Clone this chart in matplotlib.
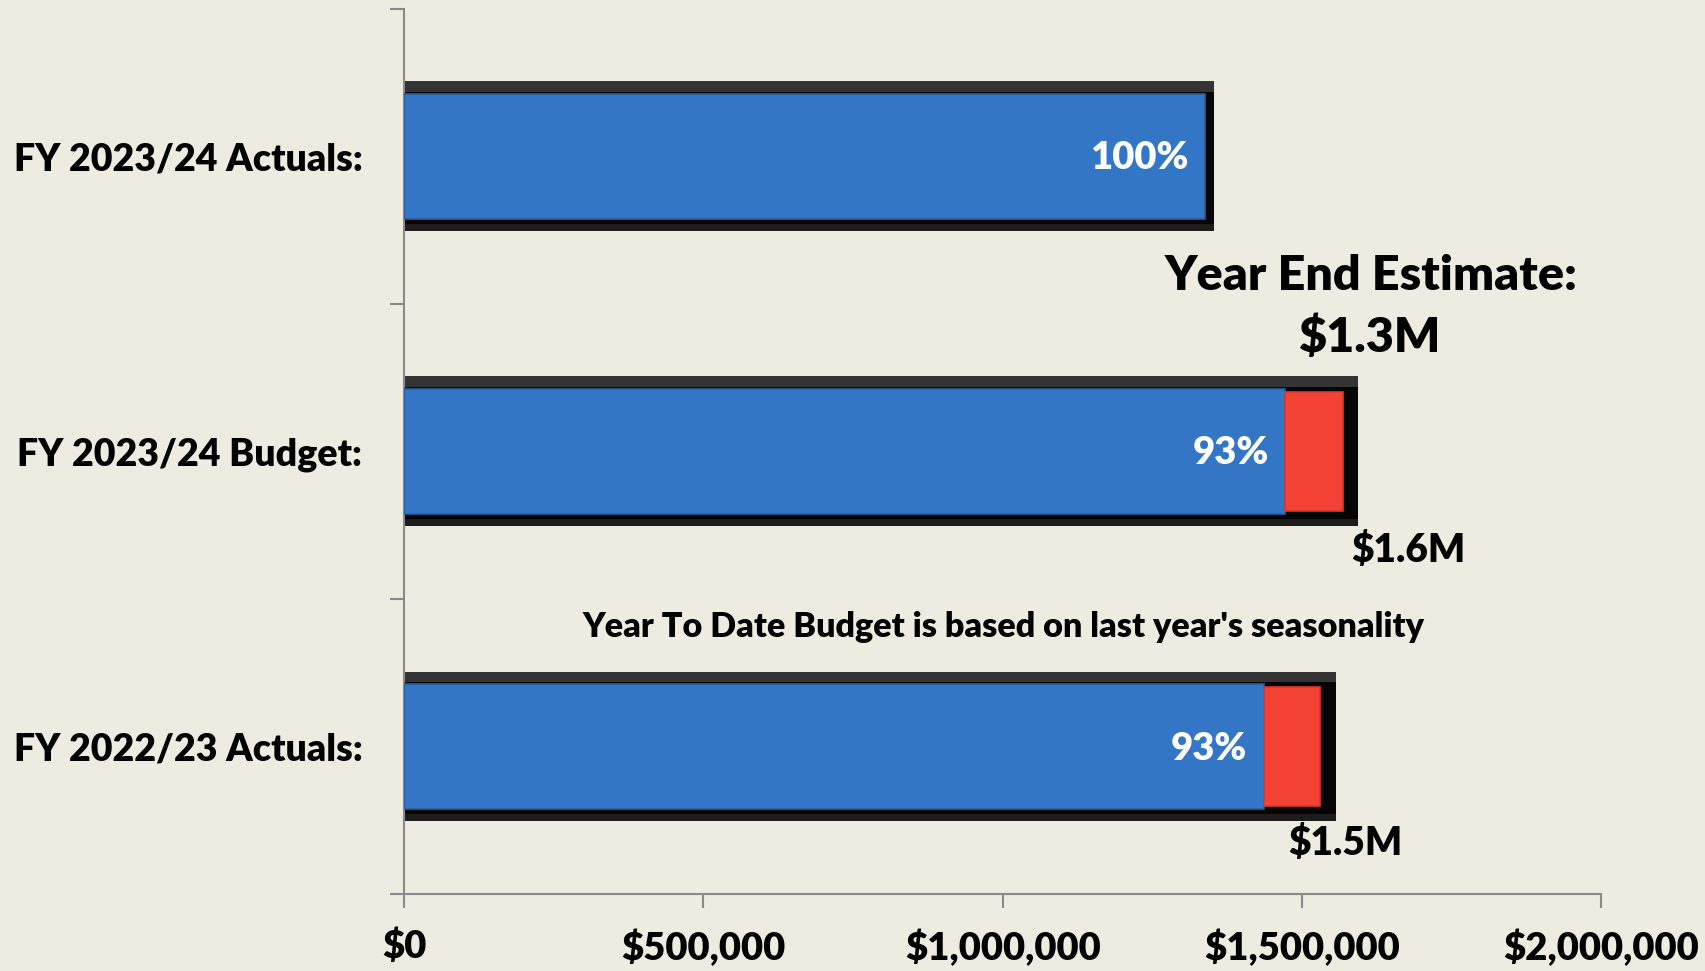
import matplotlib
matplotlib.use("Agg")
import matplotlib.pyplot as plt
from matplotlib.ticker import FuncFormatter, FixedLocator

plt.rcParams['font.family'] = ['Lato', 'DejaVu Sans']
W = 'heavy'
plt.rcParams['font.weight'] = W

# ---- data ----
categories = ["FY 2023/24 Actuals:", "FY 2023/24 Budget:", "FY 2022/23 Actuals:"]
frame_totals = [1353000, 1594000, 1557000]      # black framed bar
ytd_actuals = [1338000, 1472000, 1436000]       # blue bar
ytd_budget = [1338000, 1568000, 1530000]        # end of red segment
pct_labels = ["100%", "93%", "93%"]
total_labels = ["", "$1.6M", "$1.5M"]
total_label_x = [0, 1677000, 1572000]
x_ticks = [0, 500000, 1000000, 1500000, 2000000]
estimate_title = "Year End Estimate:"
estimate_value = "$1.3M"
note_text = "Year To Date Budget is based on last year's seasonality"

BG = "#EEECE1"
BLUE = "#3476C6"
RED = "#F44236"
AXIS = "#8A8A8A"

fig = plt.figure(figsize=(17.06, 9.71), dpi=100, facecolor=BG)
ax = fig.add_axes([0.2368, 0.0793, 0.7019, 0.9117], facecolor=BG)

ypos = list(range(len(categories)))
frame_h = 0.508
bevel_h = 0.036
blue_h = 0.424
red_h = 0.403

ax.barh(ypos, frame_totals, height=frame_h, color="#050505", zorder=2)
ax.barh([y - frame_h / 2 + bevel_h / 2 for y in ypos], frame_totals, height=bevel_h,
        color="#343434", zorder=2.1)
ax.barh([y + frame_h / 2 - 0.012 for y in ypos], frame_totals, height=0.024,
        color="#1c1c1c", zorder=2.1)
ax.barh(ypos, ytd_actuals, height=blue_h, color=BLUE, edgecolor="#2A5E9C",
        linewidth=1.2, zorder=3)
for y, a, b in zip(ypos, ytd_actuals, ytd_budget):
    if b > a:
        ax.barh(y, b - a, left=a, height=red_h, color=RED, edgecolor="#D8392D",
                linewidth=1.2, zorder=3)

for y, a, t in zip(ypos, ytd_actuals, pct_labels):
    ax.annotate(t, (a, y), xytext=(-12, -1.5), textcoords="offset points", ha="right",
                va="center", color="white", fontsize=27.5, fontweight=W, zorder=5)

for y, x, t in zip(ypos, total_label_x, total_labels):
    if t:
        ax.text(x, y + 0.375 + (0.0 if y == 1 else -0.007), t, ha="center", va="baseline",
                fontsize=28, fontweight=W, color="black")

ax.text(1615000, 0.453, estimate_title, ha="center", va="baseline", fontsize=34.9,
        fontweight=W, color="black")
ax.text(1612000, 0.663, estimate_value, ha="center", va="baseline", fontsize=34.9,
        fontweight=W, color="black")
ax.text(1001000, 1.629, note_text, ha="center", va="baseline", fontsize=24.6,
        fontweight=W, color="black")

ax.set_xlim(0, 2000000)
ax.set_ylim(2.5, -0.5)

ax.xaxis.set_major_locator(FixedLocator(x_ticks))
ax.xaxis.set_major_formatter(FuncFormatter(lambda v, p: "${:,.0f}".format(v)))
ax.tick_params(axis="x", direction="out", length=10, width=1.5, color=AXIS,
               labelsize=27.5, pad=15, labelcolor="black")

ax.set_yticks([-0.5, 0.5, 1.5, 2.5])
ax.set_yticklabels([])
ax.set_yticks(ypos, minor=True)
ax.set_yticklabels(categories, minor=True)
ax.tick_params(axis="y", which="major", direction="out", length=10, width=1.5, color=AXIS)
ax.tick_params(axis="y", which="minor", length=0, pad=30, labelsize=27.0)
for lab in ax.get_yticklabels(minor=True) + ax.get_xticklabels():
    lab.set_fontweight(W)

for s in ["top", "right"]:
    ax.spines[s].set_visible(False)
for s in ["left", "bottom"]:
    ax.spines[s].set_color(AXIS)
    ax.spines[s].set_linewidth(1.5)

fig.savefig("out.png", dpi=100, facecolor=BG)
